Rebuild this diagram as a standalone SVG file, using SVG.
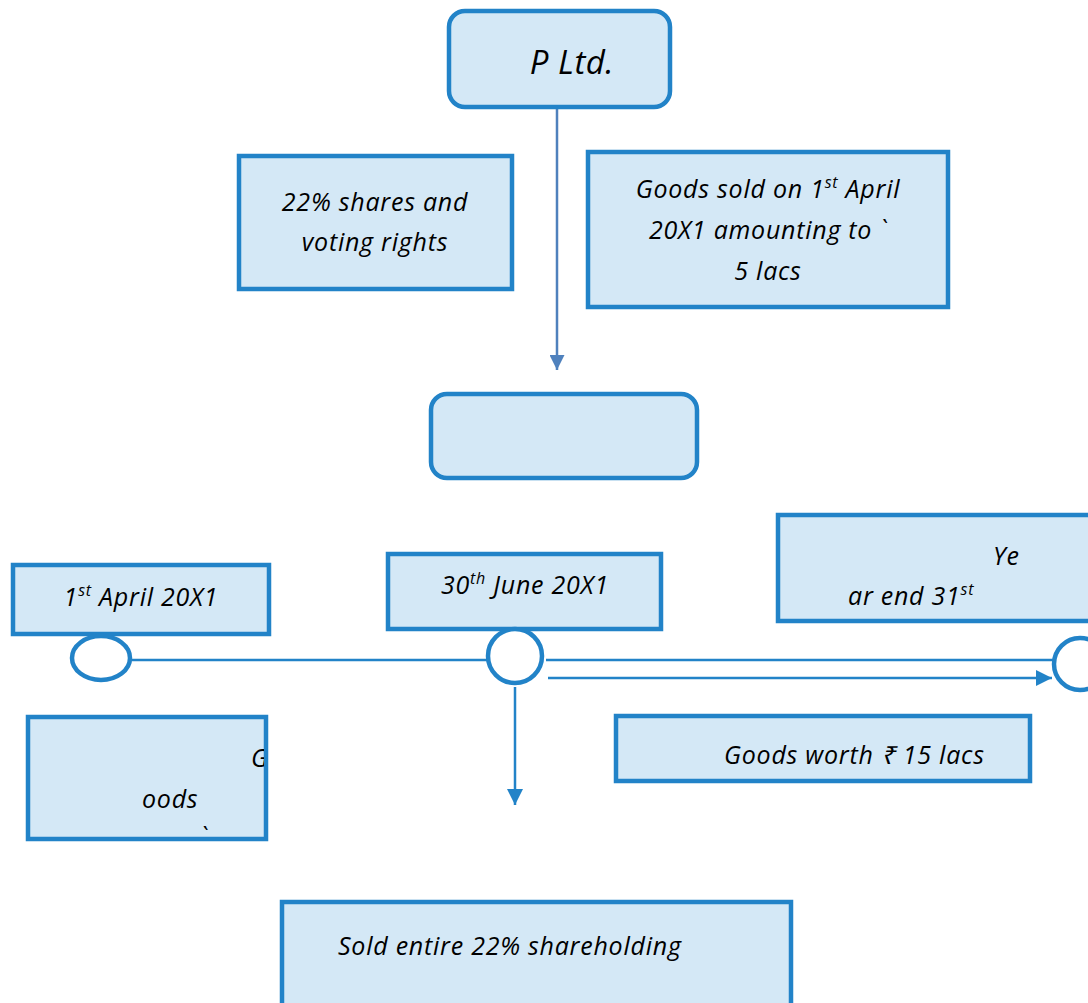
<svg xmlns="http://www.w3.org/2000/svg" width="1088" height="1003" viewBox="0 0 1088 1003">
<style>
.box{fill:#D4E8F6;stroke:#2283C8;stroke-width:4.5}
.t{font-family:"Open Sans","Liberation Sans",Arial,sans-serif;font-style:italic;font-size:25px;letter-spacing:0.75px;fill:#000}
.c{text-anchor:middle}
.ln{stroke:#2283C8;stroke-width:2.5;fill:none}
.circ{fill:#fff;stroke:#2283C8;stroke-width:4.5}
</style>
<defs>
<marker id="ah1" viewBox="0 0 10 10" refX="10" refY="5" markerWidth="6" markerHeight="6" orient="auto" markerUnits="strokeWidth"><path d="M0,0L10,5L0,10z" fill="#4F81BD"/></marker>
<marker id="ah2" viewBox="0 0 10 10" refX="10" refY="5" markerWidth="6.5" markerHeight="6.5" orient="auto" markerUnits="strokeWidth"><path d="M0,0L10,5L0,10z" fill="#2283C8"/></marker>
<clipPath id="clipLL"><rect x="30" y="719" width="234" height="118"/></clipPath>
</defs>
<g id="connectors">
<line x1="557" y1="92" x2="557" y2="370" stroke="#4F81BD" stroke-width="2.5" marker-end="url(#ah1)"/>
<line class="ln" x1="130" y1="660" x2="488" y2="660"/>
<line class="ln" x1="546" y1="660" x2="1054" y2="660"/>
<line class="ln" x1="548" y1="678" x2="1052" y2="678" marker-end="url(#ah2)"/>
<line class="ln" x1="515" y1="687" x2="515" y2="805" marker-end="url(#ah2)"/>
</g>
<g id="p-ltd">
<rect class="box" x="449" y="11" width="221" height="96" rx="16"/>
<text class="t" x="572" y="74" text-anchor="middle" style="font-size:33px;letter-spacing:0.5px">P Ltd.</text>
</g>
<g id="shares">
<rect class="box" x="239" y="156" width="273" height="133"/>
<text class="t c" x="375" y="211">22% shares and</text>
<text class="t c" x="375" y="251">voting rights</text>
</g>
<g id="goods-sold">
<rect class="box" x="588" y="152" width="360" height="155"/>
<text class="t c" x="768" y="198">Goods sold on 1<tspan dy="-10" font-size="16">st</tspan><tspan dy="10"> April</tspan></text>
<text class="t c" x="768" y="239">20X1 amounting to `</text>
<text class="t c" x="768" y="280">5 lacs</text>
</g>
<g id="associate">
<rect class="box" x="431" y="394" width="266" height="84" rx="16"/>
</g>
<g id="date1">
<rect class="box" x="13" y="565" width="256" height="69"/>
<text class="t c" x="141" y="606">1<tspan dy="-10" font-size="16">st</tspan><tspan dy="10"> April 20X1</tspan></text>
</g>
<g id="date2">
<rect class="box" x="388" y="554" width="273" height="75"/>
<text class="t c" x="525" y="594">30<tspan dy="-10" font-size="16">th</tspan><tspan dy="10"> June 20X1</tspan></text>
</g>
<g id="yearend">
<rect class="box" x="778" y="515" width="320" height="106"/>
<text class="t" x="993" y="565">Ye</text>
<text class="t" x="848" y="605">ar end 31<tspan dy="-10" font-size="16">st</tspan></text>
</g>
<g id="node-c1"><ellipse class="circ" cx="101" cy="658" rx="29" ry="22"/></g>
<g id="node-c2"><circle class="circ" cx="515" cy="656" r="27"/></g>
<g id="node-c3"><circle class="circ" cx="1080" cy="664" r="26"/></g>
<g id="goods-left">
<rect class="box" x="28" y="717" width="238" height="122"/>
<g clip-path="url(#clipLL)">
<text class="t" x="251" y="767">G</text>
<text class="t" x="142" y="808">oods</text>
<text class="t" x="200" y="846">`</text>
</g>
</g>
<g id="goods-worth">
<rect class="box" x="616" y="716" width="414" height="65"/>
<text class="t" x="724" y="764">Goods worth ₹ 15 lacs</text>
</g>
<g id="sold">
<rect class="box" x="282" y="902" width="509" height="110"/>
<text class="t" x="338" y="955">Sold entire 22% shareholding</text>
</g>
</svg>
